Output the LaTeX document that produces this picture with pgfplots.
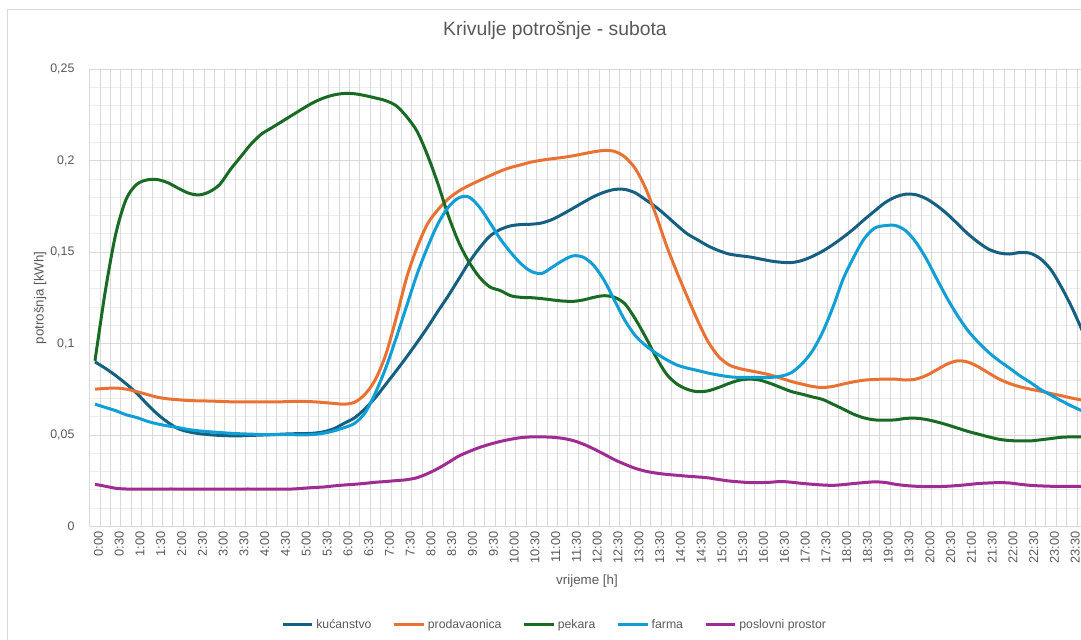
\documentclass[border=0pt]{standalone}
\usepackage{fontspec}
\setmainfont{Liberation Sans}
\usepackage{pgfplots}
\usepackage{pgfplotstable}
\pgfplotsset{compat=1.18}

\definecolor{kuc}{HTML}{156082}
\definecolor{prod}{HTML}{E97132}
\definecolor{pek}{HTML}{196B24}
\definecolor{farm}{HTML}{0F9ED5}
\definecolor{posl}{HTML}{A02B93}
\definecolor{txt}{HTML}{595959}
\definecolor{grd}{HTML}{D9D9D9}
\definecolor{grdm}{HTML}{EDEDED}

% h = sat, vrijednosti u kWh (15-min intervali)
\pgfplotstableread{
h kuc prod pek farm posl
0.00 0.0900 0.0751 0.0906 0.0669 0.0231
0.25 0.0865 0.0755 0.1290 0.0651 0.0220
0.50 0.0825 0.0757 0.1600 0.0633 0.0209
0.75 0.0780 0.0751 0.1790 0.0611 0.0205
1.00 0.0730 0.0738 0.1870 0.0596 0.0204
1.25 0.0670 0.0722 0.1895 0.0576 0.0204
1.50 0.0615 0.0707 0.1897 0.0561 0.0204
1.75 0.0570 0.0698 0.1880 0.0550 0.0205
2.00 0.0535 0.0693 0.1850 0.0541 0.0205
2.25 0.0518 0.0689 0.1823 0.0530 0.0205
2.50 0.0508 0.0687 0.1813 0.0523 0.0205
2.75 0.0502 0.0686 0.1830 0.0518 0.0205
3.00 0.0498 0.0684 0.1870 0.0514 0.0205
3.25 0.0496 0.0682 0.1950 0.0510 0.0205
3.50 0.0496 0.0682 0.2020 0.0507 0.0205
3.75 0.0498 0.0682 0.2090 0.0505 0.0205
4.00 0.0500 0.0682 0.2145 0.0503 0.0204
4.25 0.0502 0.0682 0.2180 0.0503 0.0204
4.50 0.0505 0.0682 0.2215 0.0503 0.0204
4.75 0.0507 0.0684 0.2250 0.0502 0.0205
5.00 0.0508 0.0684 0.2285 0.0501 0.0209
5.25 0.0510 0.0682 0.2318 0.0503 0.0213
5.50 0.0518 0.0678 0.2343 0.0510 0.0216
5.75 0.0535 0.0673 0.2360 0.0523 0.0222
6.00 0.0565 0.0669 0.2368 0.0541 0.0227
6.25 0.0595 0.0680 0.2366 0.0565 0.0231
6.50 0.0645 0.0724 0.2356 0.0623 0.0236
6.75 0.0706 0.0806 0.2343 0.0733 0.0242
7.00 0.0779 0.0943 0.2328 0.0870 0.0246
7.25 0.0852 0.1144 0.2300 0.1034 0.0251
7.50 0.0928 0.1363 0.2240 0.1208 0.0256
7.75 0.1007 0.1527 0.2160 0.1381 0.0267
8.00 0.1089 0.1655 0.2030 0.1527 0.0289
8.25 0.1177 0.1732 0.1874 0.1655 0.0317
8.50 0.1262 0.1792 0.1700 0.1746 0.0350
8.75 0.1353 0.1834 0.1554 0.1797 0.0385
9.00 0.1445 0.1865 0.1445 0.1801 0.0410
9.25 0.1523 0.1892 0.1363 0.1746 0.0432
9.50 0.1588 0.1918 0.1310 0.1662 0.0450
9.75 0.1624 0.1943 0.1290 0.1572 0.0465
10.00 0.1644 0.1963 0.1262 0.1499 0.0477
10.25 0.1651 0.1978 0.1253 0.1436 0.0486
10.50 0.1653 0.1993 0.1251 0.1394 0.0490
10.75 0.1660 0.2003 0.1246 0.1384 0.0490
11.00 0.1679 0.2011 0.1239 0.1418 0.0488
11.25 0.1708 0.2018 0.1233 0.1454 0.0482
11.50 0.1740 0.2027 0.1231 0.1480 0.0470
11.75 0.1773 0.2038 0.1239 0.1472 0.0450
12.00 0.1804 0.2049 0.1253 0.1427 0.0424
12.25 0.1828 0.2056 0.1262 0.1345 0.0395
12.50 0.1843 0.2051 0.1253 0.1235 0.0365
12.75 0.1843 0.2020 0.1217 0.1126 0.0340
13.00 0.1824 0.1956 0.1134 0.1043 0.0318
13.25 0.1786 0.1847 0.1034 0.0989 0.0302
13.50 0.1746 0.1700 0.0925 0.0947 0.0292
13.75 0.1698 0.1535 0.0833 0.0912 0.0285
14.00 0.1647 0.1390 0.0779 0.0883 0.0280
14.25 0.1600 0.1255 0.0750 0.0866 0.0275
14.50 0.1567 0.1125 0.0737 0.0853 0.0271
14.75 0.1534 0.1010 0.0742 0.0839 0.0266
15.00 0.1509 0.0930 0.0760 0.0828 0.0257
15.25 0.1490 0.0884 0.0782 0.0819 0.0249
15.50 0.1481 0.0864 0.0800 0.0815 0.0244
15.75 0.1474 0.0852 0.0806 0.0815 0.0240
16.00 0.1463 0.0841 0.0800 0.0815 0.0240
16.25 0.1452 0.0828 0.0782 0.0815 0.0242
16.50 0.1445 0.0811 0.0760 0.0822 0.0246
16.75 0.1443 0.0793 0.0738 0.0841 0.0242
17.00 0.1454 0.0779 0.0724 0.0888 0.0236
17.25 0.1476 0.0766 0.0709 0.0957 0.0231
17.50 0.1505 0.0760 0.0695 0.1061 0.0227
17.75 0.1541 0.0766 0.0669 0.1198 0.0225
18.00 0.1582 0.0779 0.0642 0.1354 0.0229
18.25 0.1627 0.0791 0.0614 0.1472 0.0235
18.50 0.1677 0.0800 0.0594 0.1572 0.0240
18.75 0.1724 0.0804 0.0583 0.1631 0.0244
19.00 0.1770 0.0806 0.0582 0.1645 0.0241
19.25 0.1801 0.0806 0.0583 0.1646 0.0231
19.50 0.1817 0.0801 0.0591 0.1618 0.0224
19.75 0.1814 0.0806 0.0592 0.1554 0.0220
20.00 0.1792 0.0826 0.0585 0.1463 0.0218
20.25 0.1755 0.0857 0.0572 0.1354 0.0218
20.50 0.1709 0.0888 0.0556 0.1248 0.0220
20.75 0.1655 0.0906 0.0538 0.1153 0.0224
21.00 0.1600 0.0899 0.0520 0.1071 0.0229
21.25 0.1554 0.0873 0.0505 0.1007 0.0235
21.50 0.1516 0.0839 0.0490 0.0952 0.0238
21.75 0.1496 0.0806 0.0477 0.0906 0.0240
22.00 0.1490 0.0782 0.0470 0.0866 0.0238
22.25 0.1498 0.0764 0.0468 0.0824 0.0231
22.50 0.1494 0.0751 0.0468 0.0788 0.0225
22.75 0.1463 0.0740 0.0474 0.0749 0.0222
23.00 0.1403 0.0727 0.0481 0.0718 0.0220
23.25 0.1308 0.0715 0.0488 0.0687 0.0220
23.50 0.1198 0.0702 0.0490 0.0658 0.0220
23.75 0.1071 0.0691 0.0490 0.0632 0.0220
}\potrosnja

\begin{document}
\begin{tikzpicture}
% 1 px = 0.75pt, slika 1081x639 px
\path[use as bounding box] (0,0) rectangle (810.75pt,479.25pt);
\draw[grd, line width=0.75pt] (5.25pt,-2pt) -- (5.25pt,471.75pt) -- (815pt,471.75pt);
\begin{axis}[
    at={(67.35pt,84.375pt)}, anchor=south west,
    scale only axis,
    width=743.4pt, height=342.9pt,
    xmin=-0.125, xmax=23.72,
    ymin=0, ymax=0.25,
    clip=true,
    axis lines*=left,
    x axis line style={draw=grd, line width=0.75pt},
    y axis line style={draw=none},
    tick style={draw=none},
    xtick={0,0.5,...,23.5},
    xticklabels={0:00,0:30,1:00,1:30,2:00,2:30,3:00,3:30,4:00,4:30,5:00,5:30,
      6:00,6:30,7:00,7:30,8:00,8:30,9:00,9:30,10:00,10:30,11:00,11:30,
      12:00,12:30,13:00,13:30,14:00,14:30,15:00,15:30,16:00,16:30,17:00,17:30,
      18:00,18:30,19:00,19:30,20:00,20:30,21:00,21:30,22:00,22:30,23:00,23:30},
    xticklabel style={rotate=90, anchor=east, yshift=-2.6pt, font=\fontsize{9.6}{11}\selectfont, text=txt},
    extra x ticks={-0.125,0.125,...,23.7},
    extra x tick labels={},
    extra x tick style={grid=major, major grid style={draw=grd, line width=0.75pt}},
    ytick={0,0.05,0.1,0.15,0.2,0.25},
    yticklabels={0,{0,05},{0,1},{0,15},{0,2},{0,25}},
    yticklabel style={font=\fontsize{9.3}{11}\selectfont, text=txt, xshift=-8pt},
    minor y tick num=4,
    ymajorgrids, yminorgrids,
    major grid style={draw=grd, line width=0.75pt},
    minor grid style={draw=grdm, line width=0.75pt},
    xlabel={vrijeme [h]},
    ylabel={potrošnja [kWh]},
    xlabel style={at={(0.5016,-0.1192)}, anchor=center, font=\fontsize{10}{12}\selectfont, text=txt},
    ylabel style={at={(-0.0502,0.5)}, anchor=center, font=\fontsize{10}{12}\selectfont, text=txt},
    title={Krivulje potrošnje - subota},
    title style={at={(0.4693,1.0685)}, anchor=center, font=\fontsize{14.5}{17}\selectfont, text=txt},
    legend style={at={(0.4693,-0.2154)}, anchor=center, draw=none, fill=none,
      font=\fontsize{9.2}{11}\selectfont, text=txt,
      /tikz/every even column/.append style={column sep=14pt}},
    legend columns=-1,
    legend image code/.code={\draw[#1, line width=2.25pt] (0pt,0pt) -- (22pt,0pt);},
    every axis plot/.append style={line width=2.25pt, smooth, tension=0.5, mark=none},
]
\addplot[kuc] table[x=h, y=kuc] {\potrosnja};
\addlegendentry{kućanstvo}
\addplot[prod] table[x=h, y=prod] {\potrosnja};
\addlegendentry{prodavaonica}
\addplot[pek] table[x=h, y=pek] {\potrosnja};
\addlegendentry{pekara}
\addplot[farm] table[x=h, y=farm] {\potrosnja};
\addlegendentry{farma}
\addplot[posl] table[x=h, y=posl] {\potrosnja};
\addlegendentry{poslovni prostor}
\end{axis}
\end{tikzpicture}
\end{document}
